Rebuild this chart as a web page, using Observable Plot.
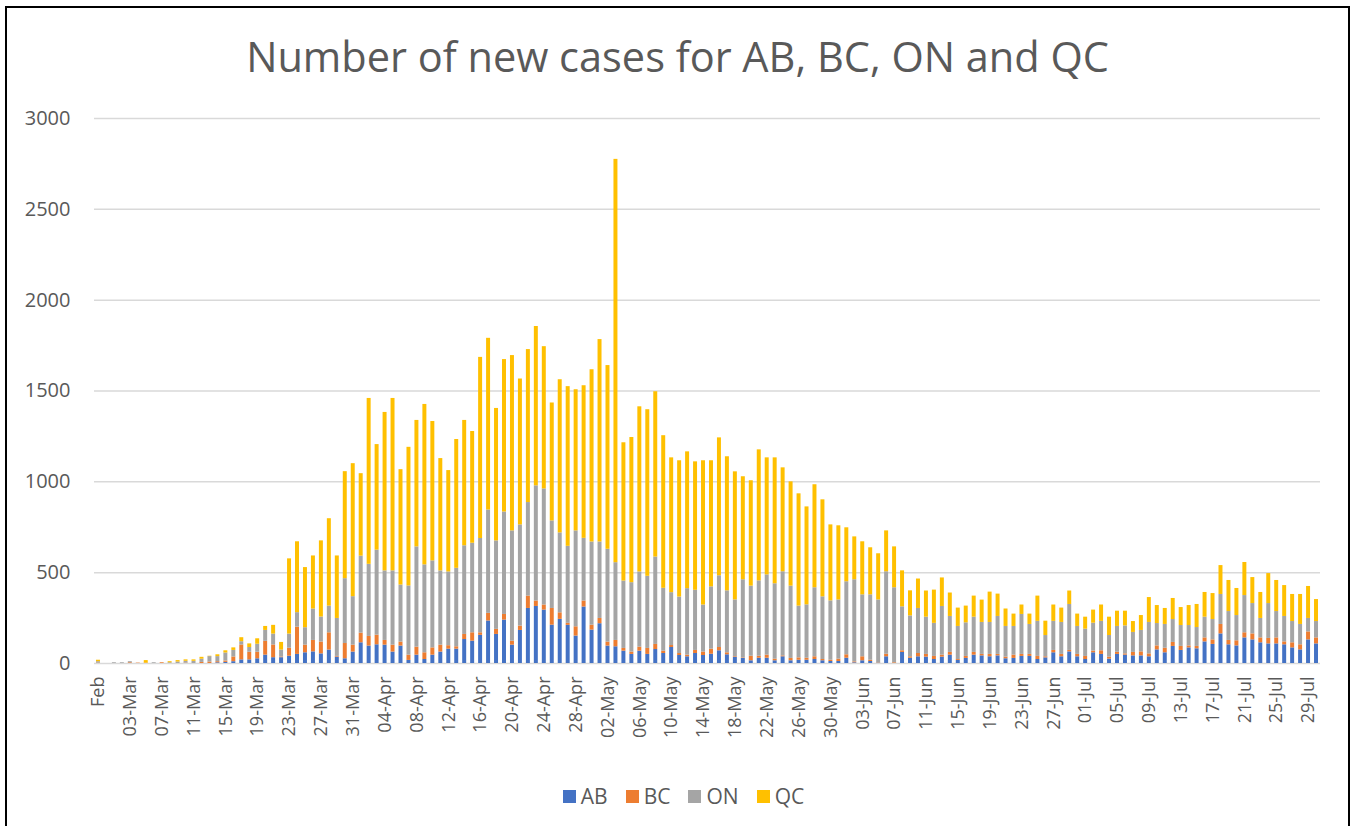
<!DOCTYPE html>
<html><head><meta charset="utf-8">
<script src="https://cdn.jsdelivr.net/npm/d3@7"></script>
<script src="https://cdn.jsdelivr.net/npm/@observablehq/plot@0.6"></script>
<style>
html,body{margin:0;padding:0;background:#fff;}
body{width:1351px;height:826px;overflow:hidden;position:relative;font-family:"Open Sans",sans-serif;}
#frame{position:absolute;left:5px;top:6px;width:1341px;height:830px;border:2px solid #000;background:#fff;}
#title{height:92px;box-sizing:border-box;padding-top:20px;text-align:center;color:#595959;font-size:41.5px;line-height:56px;white-space:nowrap;}
#chart svg{display:block;}
#legend{height:76px;box-sizing:border-box;padding-top:16px;display:flex;justify-content:center;gap:18px;color:#595959;font-size:21px;line-height:24px;padding-left:12px;}
.item{display:flex;align-items:center;gap:5px;}
.sw{width:13px;height:13px;display:inline-block;}
</style>
</head><body>
<div id="frame">
  <div id="title">Number of new cases for AB, BC, ON and QC</div>
  <div id="chart"></div>
  <div id="legend"></div>
</div>
<script>
const seriesNames = ["AB", "BC", "ON", "QC"];
const seriesColors = ["#4472C4", "#ED7D31", "#A5A5A5", "#FFC000"];

const AB = [
0,0,0,0,0,0,0,0,0,0,
0,0,0,0,0,4,6,10,20,20,
26,46,32,32,40,50,59,64,53,74,
35,26,63,114,96,103,101,63,96,17,
46,22,46,63,79,79,132,123,155,234,
160,239,101,182,303,314,294,211,243,210,
151,311,184,219,96,92,68,50,68,50,
77,55,88,44,37,55,44,51,70,48,
33,28,15,29,29,15,37,15,18,18,
22,15,11,11,29,4,15,11,2,37,
0,61,29,37,35,22,35,46,17,28,
46,42,37,42,26,28,39,39,22,31,
59,37,64,37,22,59,50,24,50,46,
42,42,37,75,59,94,72,86,81,119,
105,163,103,97,141,130,114,108,108,103,
86,75,130,108];

const BC = [
2,0,0,0,4,2,2,0,4,0,
0,2,0,6,8,6,8,26,82,42,
36,76,70,4,44,150,42,63,65,95,
4,84,38,53,53,53,26,38,22,29,
44,37,40,38,19,13,28,46,14,42,
28,31,22,24,68,30,28,92,36,11,
51,33,27,29,22,35,15,13,22,33,
28,13,11,11,9,17,19,28,18,11,
4,3,25,11,17,9,5,13,13,11,
15,7,7,13,19,5,22,7,2,14,
4,9,8,18,15,17,11,15,5,11,
15,8,13,8,9,18,11,11,17,6,
13,13,8,13,17,9,20,11,12,7,
19,22,16,22,25,22,22,11,13,22,
25,52,24,28,28,33,27,30,33,16,
28,28,44,33];

const ON = [
8,0,4,4,6,0,0,4,0,4,
8,10,12,18,30,28,44,36,18,26,
44,60,60,38,78,80,96,173,138,147,
209,357,267,424,397,468,383,409,314,381,
552,484,479,409,406,432,488,493,519,569,
487,564,607,557,515,634,639,482,440,424,
528,345,458,421,511,428,371,382,414,397,
481,346,291,311,366,331,259,343,395,341,
313,430,386,415,442,415,463,398,285,294,
380,345,327,326,402,452,341,360,346,454,
413,242,225,248,205,182,268,198,182,185,
194,176,176,209,169,158,220,165,193,117,
160,176,253,154,150,154,162,119,142,154,
110,118,173,123,131,126,115,112,104,114,
112,165,159,139,205,167,107,192,145,140,
117,112,74,90];

const QC = [
8,0,0,0,0,0,14,0,0,6,
8,8,8,10,2,10,12,14,22,20,
30,22,48,42,414,390,331,292,419,481,
344,589,732,454,913,581,872,949,635,763,
696,883,767,618,558,709,690,615,997,945,
729,839,965,803,842,877,783,649,843,879,
777,840,948,1114,1011,2220,761,799,909,917,
910,840,742,750,753,707,794,694,759,738,
705,567,580,721,644,693,572,574,618,539,
567,534,418,408,297,236,292,259,254,225,
225,198,138,162,144,183,157,129,101,92,
116,123,167,123,96,68,52,57,139,79,
90,79,74,68,66,72,90,101,84,81,
60,82,137,99,88,116,99,110,127,136,
143,159,171,149,182,143,143,165,171,170,
149,165,176,121];

const tickLabels = ["Feb","03-Mar","07-Mar","11-Mar","15-Mar","19-Mar","23-Mar","27-Mar","31-Mar",
"04-Apr","08-Apr","12-Apr","16-Apr","20-Apr","24-Apr","28-Apr","02-May","06-May","10-May",
"14-May","18-May","22-May","26-May","30-May","03-Jun","07-Jun","11-Jun","15-Jun","19-Jun",
"23-Jun","27-Jun","01-Jul","05-Jul","09-Jul","13-Jul","17-Jul","21-Jul","25-Jul","29-Jul"];

const yTicks = [0, 500, 1000, 1500, 2000, 2500, 3000];

// categories: one per day, 28-Feb-2020 .. 30-Jul-2020
const days = d3.utcDay.range(new Date(Date.UTC(2020, 1, 28)), new Date(Date.UTC(2020, 6, 31)));
const fmt = d3.utcFormat("%d-%b");
const dateKeys = days.map(fmt);

const seriesData = {AB, BC, ON, QC};
const rows = [];
dateKeys.forEach((d, i) => {
  seriesNames.forEach(s => rows.push({date: d, series: s, value: seriesData[s][i]}));
});

const tickKeys = tickLabels.map((_, k) => dateKeys[k * 4]);
const tickMap = new Map(tickKeys.map((k, j) => [k, tickLabels[j]]));

const chart = Plot.plot({
  width: 1341,
  height: 650,
  marginTop: 18,
  marginBottom: 87,
  marginLeft: 87,
  marginRight: 28,
  style: {fontFamily: "'Open Sans', sans-serif", color: "#595959", background: "transparent"},
  x: {type: "band", domain: dateKeys, paddingInner: 0.5, paddingOuter: 0.25, align: 0.5, label: null},
  y: {domain: [0, 3000], label: null},
  color: {domain: seriesNames, range: seriesColors},
  marks: [
    Plot.gridY(yTicks, {stroke: "#D9D9D9", strokeOpacity: 1, strokeWidth: 1.5}),
    Plot.barY(rows, {x: "date", y: "value", fill: "series", order: seriesNames}),
    Plot.axisY({ticks: yTicks, tickFormat: d => String(d), tickSize: 0, tickPadding: 24, fontSize: 20, label: null}),
    Plot.axisX({ticks: tickKeys, tickFormat: d => tickMap.get(d), tickRotate: -90, tickSize: 0, tickPadding: 13, fontSize: 18, label: null})
  ]
});
document.getElementById("chart").appendChild(chart);

const legend = document.getElementById("legend");
seriesNames.forEach((s, i) => {
  const item = document.createElement("div");
  item.className = "item";
  const sw = document.createElement("span");
  sw.className = "sw";
  sw.style.background = seriesColors[i];
  const t = document.createElement("span");
  t.textContent = s;
  item.appendChild(sw);
  item.appendChild(t);
  legend.appendChild(item);
});
</script>
</body></html>
